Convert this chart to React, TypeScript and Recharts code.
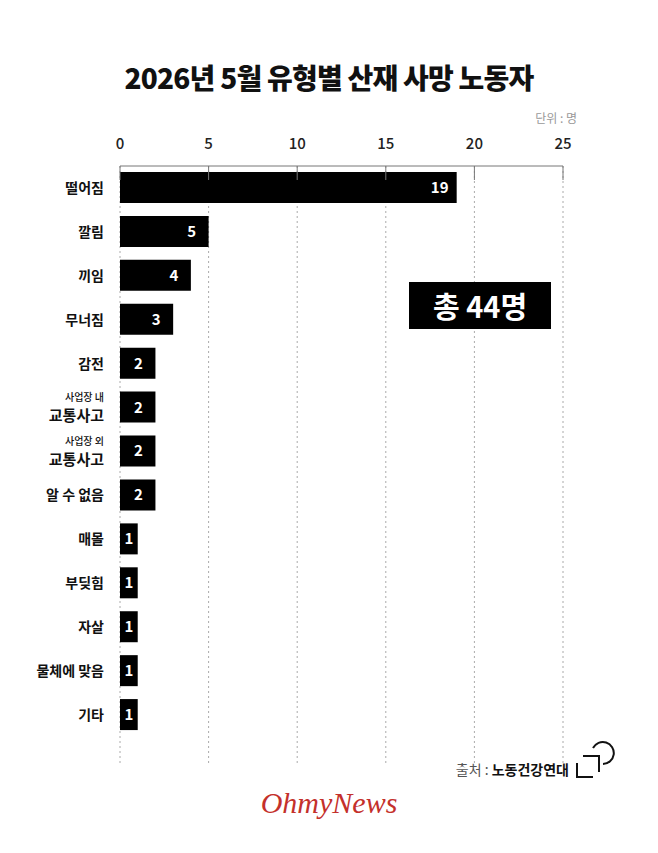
import React from 'react';
import { BarChart, Bar, XAxis, YAxis, CartesianGrid, LabelList } from 'recharts';

// 유형별 사망자 수 (단위: 명)
const categories = [
  '떨어짐',
  '깔림',
  '끼임',
  '무너짐',
  '감전',
  '사업장 내|교통사고',
  '사업장 외|교통사고',
  '알 수 없음',
  '매몰',
  '부딪힘',
  '자살',
  '물체에 맞음',
  '기타',
];
const deaths = [19, 5, 4, 3, 2, 2, 2, 2, 1, 1, 1, 1, 1];
const xTicks = [0, 5, 10, 15, 20, 25];
const totalLabel = '총 44명';

const data = categories.map((name, i) => ({ name, value: deaths[i] }));

const FONT = '"Noto Sans CJK KR", "Noto Sans", sans-serif';
const AXIS_Y = 166;
const AXIS_H = 30;

const TopTick = (props: any) => {
  const { x, payload } = props;
  return (
    <g>
      <text x={x} y={149} textAnchor="middle" fontSize={15} fontWeight={500} fill="#222" fontFamily={FONT}>
        {payload.value}
      </text>
      <line x1={x} x2={x} y1={AXIS_Y} y2={AXIS_Y + 14} stroke="#777" strokeWidth={1} />
    </g>
  );
};

const CategoryTick = (props: any) => {
  const { x, y, payload } = props;
  const parts = String(payload.value).split('|');
  if (parts.length === 2) {
    return (
      <g>
        <text x={x} y={y - 10} dy="0.35em" textAnchor="end" fontSize={10} fontWeight={500} fill="#111" fontFamily={FONT}>
          {parts[0]}
        </text>
        <text x={x} y={y + 8} dy="0.35em" textAnchor="end" fontSize={15} fontWeight={700} fill="#111" fontFamily={FONT}>
          {parts[1]}
        </text>
      </g>
    );
  }
  return (
    <text x={x} y={y} dy="0.35em" textAnchor="end" fontSize={14} fontWeight={600} fill="#111" fontFamily={FONT}>
      {parts[0]}
    </text>
  );
};

const ValueLabel = (props: any) => {
  const { x, y, width, height, value } = props;
  const cx = Math.max(x + width / 2, x + width - 17);
  return (
    <text x={cx} y={y + height / 2} dy="0.36em" textAnchor="middle" fontSize={15} fontWeight={700} fill="#fff" fontFamily={FONT}>
      {value}
    </text>
  );
};

export default function App() {
  return (
    <div style={{ position: 'absolute', left: 0, top: 0, width: 658, height: 853, background: '#fff', fontFamily: FONT }}>
      <div style={{ position: 'absolute', left: 0, top: 57, width: 658, textAlign: 'center', fontSize: 28, fontWeight: 900, lineHeight: '40px', color: '#111', letterSpacing: -0.8 }}>
        2026년 5월 유형별 산재 사망 노동자
      </div>
      <div style={{ position: 'absolute', right: 658 - 577, top: 109, fontSize: 12, color: '#999', lineHeight: '18px' }}>
        단위 : 명
      </div>

      <div style={{ position: 'absolute', left: 0, top: 0 }}>
        <BarChart
          width={658}
          height={853}
          data={data}
          layout="vertical"
          margin={{ top: AXIS_Y - AXIS_H, right: 95, bottom: 90, left: 0 }}
          barSize={31}
        >
          <CartesianGrid horizontal={false} stroke="#aaa" strokeDasharray="2 3" />
          <XAxis
            type="number"
            orientation="top"
            domain={[0, 25]}
            ticks={xTicks}
            axisLine={{ stroke: '#777', strokeWidth: 1 }}
            tickLine={false}
            tick={<TopTick />}
            height={AXIS_H}
            interval={0}
          />
          <YAxis
            type="category"
            dataKey="name"
            width={120}
            axisLine={false}
            tickLine={false}
            tickMargin={10}
            tick={<CategoryTick />}
            interval={0}
            padding={{ top: 0, bottom: 26 }}
          />
          <Bar dataKey="value" fill="#000" isAnimationActive={false}>
            <LabelList dataKey="value" content={<ValueLabel />} />
          </Bar>
        </BarChart>
      </div>

      <div style={{ position: 'absolute', left: 409, top: 282, width: 142, height: 47, background: '#000', color: '#fff', fontSize: 29, fontWeight: 700, lineHeight: '47px', textAlign: 'center' }}>
        {totalLabel}
      </div>

      <div style={{ position: 'absolute', right: 658 - 569, top: 759, fontSize: 14, lineHeight: '20px', whiteSpace: 'nowrap' }}>
        <span style={{ color: '#555' }}>출처 : </span>
        <span style={{ color: '#111', fontWeight: 700 }}>노동건강연대</span>
      </div>
      <svg style={{ position: 'absolute', left: 0, top: 0 }} width={658} height={853}>
        <path d="M577 763 V777 H593" fill="none" stroke="#111" strokeWidth={2} />
        <path d="M583 756 H599 V772" fill="none" stroke="#111" strokeWidth={2} />
        <path d="M593 748 A11 11 0 1 1 603 764" fill="none" stroke="#111" strokeWidth={2} />
      </svg>

      <div style={{ position: 'absolute', left: 0, top: 786, width: 658, textAlign: 'center', fontFamily: '"Liberation Serif", serif', fontStyle: 'italic', fontSize: 30, color: '#c4302b', lineHeight: '34px' }}>
        OhmyNews
      </div>
    </div>
  );
}
